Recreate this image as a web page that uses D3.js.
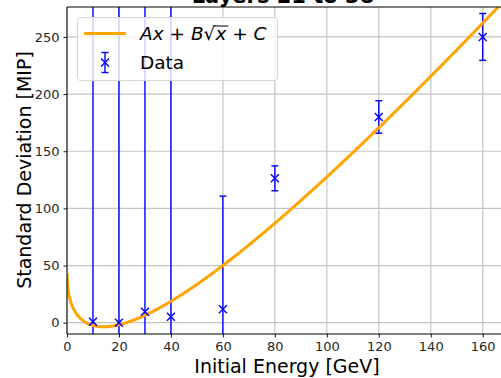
<!DOCTYPE html>
<html>
<head>
<meta charset="utf-8">
<script src="https://cdn.jsdelivr.net/npm/d3@7"></script>
<style>
  html, body { margin: 0; padding: 0; background: #fff; }
  svg { display: block; font-family: "DejaVu Sans", sans-serif; }
</style>
</head>
<body>
<svg id="chart" width="501" height="378"></svg>
<script>
// Measured standard deviation per beam energy
const energies = [10, 20, 30, 40, 60, 80, 120, 160];
const sigma = [0.9, 0.0, 9.6, 5.2, 11.7, 126.3, 180.0, 250.0];
const sigmaErr = [400, 400, 400, 400, 99, 10.9, 14.2, 20.5];

// Fit parameters for A*x + B*sqrt(x) + C
const fitA = 3.352;
const fitB = -25.12;
const fitC = 43.5;

const xTicks = [0, 20, 40, 60, 80, 100, 120, 140, 160];
const yTicks = [0, 50, 100, 150, 200, 250];

const titleText = "Layers 21 to 38";
const xLabel = "Initial Energy [GeV]";
const yLabel = "Standard Deviation [MIP]";

const svg = d3.select("#chart");
const pL = 67, pT = 7, pB = 334, pR = 510;

const x = d3.scaleLinear().domain([0, 170.5]).range([pL, pR]);
const y = d3.scaleLinear().domain([-9.9, 276.2]).range([pB, pT]);

svg.append("defs").append("clipPath").attr("id", "plotclip")
  .append("rect").attr("x", pL).attr("y", pT)
  .attr("width", pR - pL).attr("height", pB - pT);

// grid
const grid = svg.append("g");
grid.selectAll("line.gx").data(xTicks).join("line")
  .attr("x1", d => x(d)).attr("x2", d => x(d))
  .attr("y1", pT).attr("y2", pB)
  .attr("stroke", "#c4c4c4").attr("stroke-width", 1.2);
grid.selectAll("line.gy").data(yTicks).join("line")
  .attr("y1", d => y(d)).attr("y2", d => y(d))
  .attr("x1", pL).attr("x2", pR)
  .attr("stroke", "#c4c4c4").attr("stroke-width", 1.2);

const plot = svg.append("g").attr("clip-path", "url(#plotclip)");

// error bars
const blue = "#0000ff";
const eb = plot.append("g");
energies.forEach((e, i) => {
  const lo = sigma[i] - sigmaErr[i], hi = sigma[i] + sigmaErr[i];
  eb.append("line")
    .attr("x1", x(e)).attr("x2", x(e))
    .attr("y1", y(lo)).attr("y2", y(hi))
    .attr("stroke", blue).attr("stroke-width", 1.4);
  [lo, hi].forEach(v => {
    eb.append("line")
      .attr("x1", x(e) - 3.5).attr("x2", x(e) + 3.5)
      .attr("y1", y(v)).attr("y2", y(v))
      .attr("stroke", blue).attr("stroke-width", 1.4);
  });
});

// fitted curve
const fitFn = e => fitA * e + fitB * Math.sqrt(e) + fitC;
const fitX = d3.range(0, 170.01, 0.25);
plot.append("path")
  .datum(fitX)
  .attr("d", d3.line().x(d => x(d)).y(d => y(fitFn(d))))
  .attr("fill", "none").attr("stroke", "#ffa500").attr("stroke-width", 3);

// markers
const markerPath = (cx, cy, r) => `M${cx - r},${cy - r}L${cx + r},${cy + r}M${cx - r},${cy + r}L${cx + r},${cy - r}`;
plot.append("g").selectAll("path").data(energies).join("path")
  .attr("d", (d, i) => markerPath(x(d), y(sigma[i]), 4))
  .attr("stroke", blue).attr("stroke-width", 1.4).attr("fill", "none");

// axes
const xAxis = svg.append("g").attr("transform", `translate(0,${pB})`)
  .call(d3.axisBottom(x).tickValues(xTicks).tickSize(3.5).tickPadding(4).tickFormat(d3.format("d")));
const yAxis = svg.append("g").attr("transform", `translate(${pL},0)`)
  .call(d3.axisLeft(y).tickValues(yTicks).tickSize(3.5).tickPadding(4).tickFormat(d3.format("d")));
[xAxis, yAxis].forEach(a => {
  a.select(".domain").remove();
  a.selectAll("line").attr("stroke", "#000").attr("stroke-width", 0.9);
  a.selectAll("text").attr("font-size", 13).attr("fill", "#262626")
    .attr("font-family", "DejaVu Sans, sans-serif");
});

// spines
svg.append("line").attr("x1", pL).attr("x2", pL).attr("y1", pT).attr("y2", pB)
  .attr("stroke", "#000").attr("stroke-width", 1);
svg.append("line").attr("x1", pL).attr("x2", pR).attr("y1", pB).attr("y2", pB)
  .attr("stroke", "#000").attr("stroke-width", 1);
svg.append("line").attr("x1", pL).attr("x2", pR).attr("y1", pT).attr("y2", pT)
  .attr("stroke", "#000").attr("stroke-width", 1);

// title and axis labels
svg.append("text").attr("x", 283).attr("y", 3).attr("text-anchor", "middle")
  .attr("font-size", 21).attr("font-weight", "bold").attr("fill", "#000").text(titleText);
svg.append("text").attr("x", 287).attr("y", 373).attr("text-anchor", "middle")
  .attr("font-size", 19).attr("fill", "#000").text(xLabel);
svg.append("text").attr("transform", "translate(31,170) rotate(-90)").attr("text-anchor", "middle")
  .attr("font-size", 19).attr("fill", "#000").text(yLabel);

// legend
const lg = svg.append("g");
lg.append("rect").attr("x", 77.5).attr("y", 17.5).attr("width", 200).attr("height", 63)
  .attr("rx", 3).attr("fill", "#fff").attr("fill-opacity", 0.8)
  .attr("stroke", "#d6d6d6").attr("stroke-width", 1);
lg.append("line").attr("x1", 84).attr("x2", 126).attr("y1", 33.5).attr("y2", 33.5)
  .attr("stroke", "#ffa500").attr("stroke-width", 3);
lg.append("line").attr("x1", 105).attr("x2", 105).attr("y1", 52.5).attr("y2", 72.5)
  .attr("stroke", blue).attr("stroke-width", 1.4);
[52.5, 72.5].forEach(v => lg.append("line").attr("x1", 101.5).attr("x2", 108.5)
  .attr("y1", v).attr("y2", v).attr("stroke", blue).attr("stroke-width", 1.4));
lg.append("path").attr("d", markerPath(105, 62.5, 4)).attr("stroke", blue)
  .attr("stroke-width", 1.4).attr("fill", "none");

const eq = lg.append("text").attr("x", 140).attr("y", 40).attr("font-size", 18.5).attr("fill", "#000");
eq.append("tspan").attr("font-style", "italic").text("Ax");
eq.append("tspan").text(" + ");
eq.append("tspan").attr("font-style", "italic").text("B");
eq.append("tspan").text("\u221A");
const xs = eq.append("tspan").attr("font-style", "italic").text("x");
eq.append("tspan").text(" + ");
eq.append("tspan").attr("font-style", "italic").text("C");
// radical bar over x
const xb = xs.node().getBBox();
lg.append("line").attr("x1", xb.x - 1).attr("x2", xb.x + xb.width + 1)
  .attr("y1", 26).attr("y2", 26).attr("stroke", "#000").attr("stroke-width", 1);

lg.append("text").attr("x", 140).attr("y", 68.5).attr("font-size", 18.5).attr("fill", "#000").text("Data");
</script>
</body>
</html>
